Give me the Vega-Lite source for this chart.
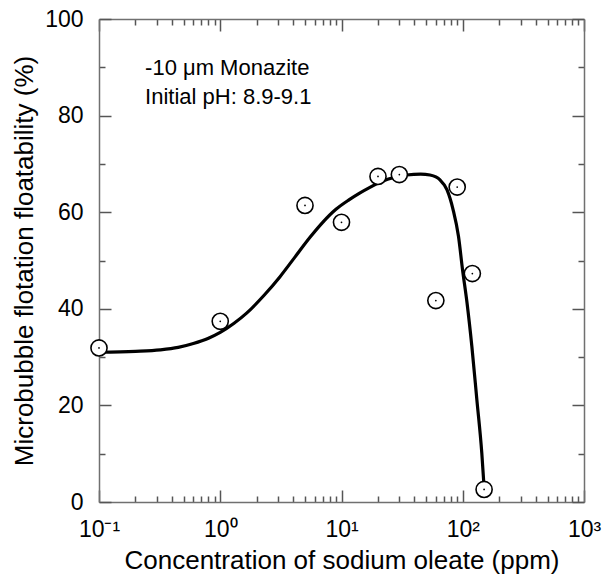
{
  "$schema": "https://vega.github.io/schema/vega-lite/v6.json",
  "width": 485,
  "height": 483,
  "autosize": {"type": "none"},
  "padding": {"left": 99, "top": 19, "right": 25, "bottom": 72},
  "background": "white",
  "config": {
    "view": {"stroke": null},
    "font": "Liberation Sans",
    "axis": {
      "grid": false,
      "domainColor": "#707070",
      "domainWidth": 1.5,
      "tickColor": "#555555",
      "tickWidth": 1.5,
      "labelColor": "black",
      "titleColor": "black",
      "labelFont": "Liberation Sans",
      "titleFont": "Liberation Sans",
      "titleFontWeight": "normal",
      "labelOverlap": false,
      "labelFlush": false,
      "labelBound": false
    }
  },
  "datasets": {
    "points": [
      {"conc": 0.1, "floatability": 31.9},
      {"conc": 1, "floatability": 37.4},
      {"conc": 5, "floatability": 61.4},
      {"conc": 10, "floatability": 57.9},
      {"conc": 20, "floatability": 67.4},
      {"conc": 30, "floatability": 67.8},
      {"conc": 60, "floatability": 41.7},
      {"conc": 90, "floatability": 65.2},
      {"conc": 120, "floatability": 47.3},
      {"conc": 150, "floatability": 2.6}
    ],
    "fit": [
      {"conc": 0.1, "floatability": 31.0},
      {"conc": 0.2, "floatability": 31.2},
      {"conc": 0.32, "floatability": 31.5},
      {"conc": 0.45, "floatability": 32.0},
      {"conc": 0.6, "floatability": 32.8},
      {"conc": 0.8, "floatability": 33.9},
      {"conc": 1.0, "floatability": 35.1},
      {"conc": 1.3, "floatability": 37.0},
      {"conc": 1.65, "floatability": 39.1},
      {"conc": 2.3, "floatability": 42.8},
      {"conc": 3.1, "floatability": 46.6},
      {"conc": 4.1, "floatability": 50.6},
      {"conc": 5.5, "floatability": 54.8},
      {"conc": 7, "floatability": 57.9},
      {"conc": 9, "floatability": 60.6},
      {"conc": 11.6, "floatability": 62.6},
      {"conc": 14, "floatability": 63.9},
      {"conc": 17, "floatability": 65.1},
      {"conc": 24, "floatability": 66.8},
      {"conc": 34.5, "floatability": 67.7},
      {"conc": 45, "floatability": 67.9},
      {"conc": 53.7, "floatability": 67.7},
      {"conc": 60, "floatability": 67.3},
      {"conc": 64.9, "floatability": 66.7},
      {"conc": 74.2, "floatability": 64.6},
      {"conc": 83.3, "floatability": 60.5},
      {"conc": 92.2, "floatability": 55.0},
      {"conc": 99.6, "floatability": 48.1},
      {"conc": 108.5, "floatability": 41.2},
      {"conc": 118.9, "floatability": 32.2},
      {"conc": 130.7, "floatability": 21.2},
      {"conc": 143.6, "floatability": 10.1},
      {"conc": 150, "floatability": 3.0}
    ],
    "notes": [
      {"note": ["-10 μm Monazite", "Initial pH: 8.9-9.1"]}
    ]
  },
  "layer": [
    {
      "data": {"name": "fit"},
      "mark": {"type": "line", "interpolate": "monotone", "color": "black", "strokeWidth": 3.2},
      "encoding": {
        "x": {
          "field": "conc", "type": "quantitative",
          "scale": {"type": "log", "domain": [0.1, 1000], "nice": false},
          "axis": {
            "orient": "bottom",
            "values": [0.1, 0.2, 0.3, 0.4, 0.5, 0.6, 0.7, 0.8, 0.9, 1, 2, 3, 4, 5, 6, 7, 8, 9, 10, 20, 30, 40, 50, 60, 70, 80, 90, 100, 200, 300, 400, 500, 600, 700, 800, 900, 1000],
            "labelExpr": "datum.value == 0.1 ? '10⁻¹' : datum.value == 1 ? '10⁰' : datum.value == 10 ? '10¹' : datum.value == 100 ? '10²' : datum.value == 1000 ? '10³' : ''",
            "tickSize": {"condition": {"test": "indexof([0.1, 1, 10, 100, 1000], datum.value) >= 0", "value": -12}, "value": -6},
            "labelFontSize": 23,
            "labelPadding": 28,
            "title": "Concentration of sodium oleate (ppm)",
            "titleFontSize": 26,
            "titlePadding": 0
          }
        },
        "y": {
          "field": "floatability", "type": "quantitative",
          "scale": {"domain": [0, 100], "nice": false},
          "axis": {
            "orient": "left",
            "values": [0, 10, 20, 30, 40, 50, 60, 70, 80, 90, 100],
            "labelExpr": "datum.value % 20 == 0 ? datum.label : ''",
            "tickSize": {"condition": {"test": "datum.value % 20 == 0", "value": -12}, "value": -6},
            "labelFontSize": 23,
            "labelPadding": 28,
            "title": "Microbubble flotation floatability (%)",
            "titleFontSize": 26,
            "titlePadding": 7
          }
        }
      }
    },
    {
      "data": {"name": "points"},
      "mark": {"type": "point", "shape": "circle", "filled": false, "fill": "white", "fillOpacity": 1, "stroke": "black", "strokeWidth": 1.6, "size": 260, "opacity": 1},
      "encoding": {
        "x": {
          "field": "conc", "type": "quantitative",
          "scale": {"type": "log", "domain": [0.1, 1000], "nice": false},
          "axis": {
            "orient": "top",
            "values": [0.1, 0.2, 0.3, 0.4, 0.5, 0.6, 0.7, 0.8, 0.9, 1, 2, 3, 4, 5, 6, 7, 8, 9, 10, 20, 30, 40, 50, 60, 70, 80, 90, 100, 200, 300, 400, 500, 600, 700, 800, 900, 1000],
            "labels": false,
            "tickSize": {"condition": {"test": "indexof([0.1, 1, 10, 100, 1000], datum.value) >= 0", "value": -12}, "value": -6},
            "title": null
          }
        },
        "y": {
          "field": "floatability", "type": "quantitative",
          "scale": {"domain": [0, 100], "nice": false},
          "axis": {
            "orient": "right",
            "values": [0, 10, 20, 30, 40, 50, 60, 70, 80, 90, 100],
            "labels": false,
            "tickSize": {"condition": {"test": "datum.value % 20 == 0", "value": -12}, "value": -6},
            "title": null
          }
        }
      }
    },
    {
      "data": {"name": "points"},
      "mark": {"type": "point", "shape": "circle", "filled": true, "color": "black", "size": 3, "opacity": 1},
      "encoding": {
        "x": {"field": "conc", "type": "quantitative", "axis": null},
        "y": {"field": "floatability", "type": "quantitative", "axis": null}
      }
    },
    {
      "data": {"name": "notes"},
      "mark": {"type": "text", "align": "left", "baseline": "alphabetic", "fontSize": 22, "lineHeight": 29, "font": "Liberation Sans", "color": "black"},
      "encoding": {
        "x": {"datum": 0.24, "type": "quantitative", "axis": null},
        "y": {"datum": 88.4, "type": "quantitative", "axis": null},
        "text": {"field": "note"}
      }
    }
  ],
  "resolve": {"axis": {"x": "independent", "y": "independent"}}
}
